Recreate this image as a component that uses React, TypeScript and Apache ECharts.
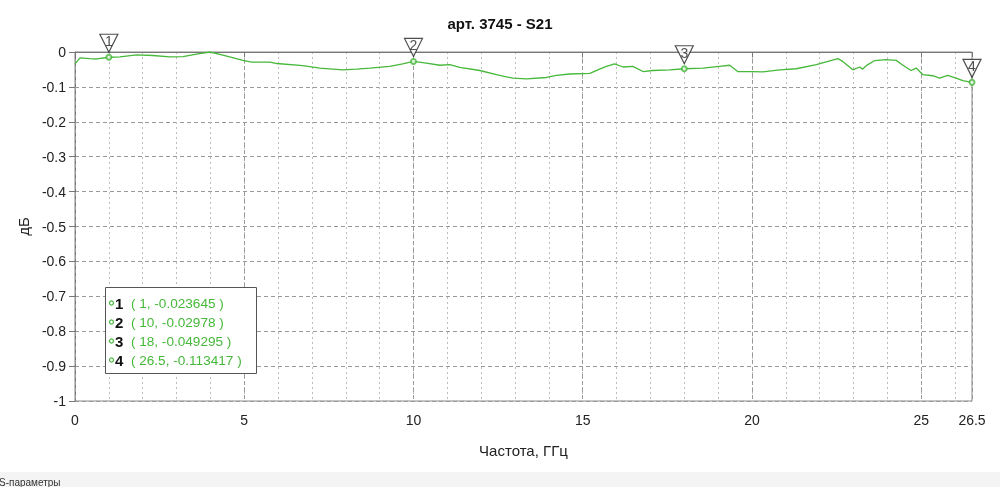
import * as echarts from 'echarts'
import { useEffect, useRef } from 'react'

// S21 trace, frequency in GHz, level in dB
const freq = [
  0, 0.15, 0.44, 0.64, 1, 1.33, 1.82, 2.3, 2.8, 3.19, 3.59, 3.99, 4.37, 4.96, 5.22, 5.76, 5.96, 6.73, 7.23, 7.91,
  8.32, 8.71, 9.3, 9.68, 10, 10.38, 10.78, 11.07, 11.37, 11.96, 12.45, 12.94, 13.34, 13.93, 14.22, 14.61, 15.21,
  15.5, 15.7, 15.94, 16.19, 16.48, 16.78, 17.07, 17.57, 18, 18.55, 19.04, 19.34, 19.58, 19.98, 20.32, 20.82, 21.31,
  21.9, 22.54, 22.68, 22.98, 23.18, 23.27, 23.42, 23.62, 23.97, 24.26, 24.46, 24.7, 24.85, 25.05, 25.34, 25.54,
  25.78, 26.03, 26.23, 26.5,
]
const s21 = [
  -0.034, -0.017, -0.019, -0.02, -0.015, -0.014, -0.008, -0.01, -0.014, -0.013, -0.006, 0, -0.009, -0.024, -0.029,
  -0.029, -0.033, -0.039, -0.046, -0.051, -0.049, -0.046, -0.041, -0.034, -0.027, -0.032, -0.038, -0.036, -0.044,
  -0.053, -0.065, -0.075, -0.077, -0.073, -0.067, -0.063, -0.061, -0.049, -0.041, -0.034, -0.043, -0.041, -0.056,
  -0.053, -0.051, -0.048, -0.046, -0.041, -0.038, -0.056, -0.056, -0.057, -0.051, -0.048, -0.036, -0.019, -0.027,
  -0.051, -0.043, -0.049, -0.036, -0.025, -0.022, -0.024, -0.038, -0.053, -0.046, -0.065, -0.068, -0.075, -0.067,
  -0.075, -0.082, -0.087,
]

// markers
const markerNames = ['1', '2', '3', '4']
const markerFreq = [1, 10, 18, 26.5]
const markerDb = [-0.015, -0.027, -0.048, -0.087]
const markerText = ['( 1, -0.023645 )', '( 10, -0.02978 )', '( 18, -0.049295 )', '( 26.5, -0.113417 )']

const GREEN = '#46b83a'
const FONT = '"Liberation Sans", Arial, sans-serif'

export default function App() {
  const chartRef = useRef<HTMLDivElement>(null)

  useEffect(() => {
    if (!chartRef.current) return
    const chart = echarts.init(chartRef.current, null, { renderer: 'svg' })

    // marker table box
    const legendItems: any[] = [
      {
        type: 'rect',
        z: 100,
        shape: { x: 105.5, y: 287.5, width: 151, height: 86 },
        style: { fill: '#fff', stroke: '#555', lineWidth: 1 },
      },
    ]
    markerNames.forEach((name, i) => {
      const y = 303 + i * 19
      legendItems.push({
        type: 'circle',
        z: 101,
        shape: { cx: 111.5, cy: y, r: 2 },
        style: { fill: '#fff', stroke: GREEN, lineWidth: 1.2 },
      })
      legendItems.push({
        type: 'text',
        z: 101,
        x: 115,
        y,
        style: {
          text: `{n|${name}}{v|  ${markerText[i]}}`,
          verticalAlign: 'middle',
          rich: {
            n: { fontFamily: FONT, fontSize: 15, fontWeight: 'bold', fill: '#111' },
            v: { fontFamily: FONT, fontSize: 13.6, fill: GREEN },
          },
        },
      })
    })

    chart.setOption({
      animation: false,
      textStyle: { fontFamily: FONT },
      title: {
        text: 'арт. 3745 - S21',
        left: 'center',
        top: 11,
        textStyle: { fontSize: 15, fontWeight: 'bold', color: '#111' },
      },
      grid: {
        left: 75,
        right: 28,
        top: 52,
        bottom: 86,
        show: true,
        borderColor: '#888',
        borderWidth: 1,
      },
      xAxis: [
        {
          type: 'value',
          min: 0,
          max: 26.5,
          interval: 5,
          z: 2,
          name: 'Частота, ГГц',
          nameLocation: 'middle',
          nameGap: 42,
          nameTextStyle: { fontSize: 15, color: '#222' },
          axisLine: { lineStyle: { color: '#777' } },
          axisTick: { show: true, length: 5, lineStyle: { color: '#777' } },
          axisLabel: { fontSize: 14, color: '#222', margin: 12 },
          splitLine: { show: true, lineStyle: { color: '#999', type: [4, 3] } },
        },
        {
          type: 'value',
          min: 0,
          max: 26.5,
          interval: 1,
          z: 0,
          position: 'bottom',
          axisLine: { show: false },
          axisTick: { show: false },
          axisLabel: { show: false },
          splitLine: { show: true, lineStyle: { color: '#bdbdbd', type: [2, 3] } },
        },
      ],
      yAxis: {
        type: 'value',
        min: -1,
        max: 0,
        interval: 0.1,
        name: 'дБ',
        nameLocation: 'middle',
        nameGap: 43,
        nameTextStyle: { fontSize: 15, color: '#222' },
        axisLine: { show: true, lineStyle: { color: '#777' } },
        axisTick: { show: true, length: 6, lineStyle: { color: '#777' } },
        axisLabel: { fontSize: 14, color: '#222', margin: 9 },
        splitLine: { show: true, lineStyle: { color: '#999', type: [4, 3] } },
      },
      graphic: [
        ...legendItems,
        {
          type: 'rect',
          shape: { x: 0, y: 472, width: 1000, height: 15 },
          style: { fill: '#f4f4f4' },
        },
        {
          type: 'text',
          x: -1,
          y: 477,
          style: { text: 'S-параметры', fontFamily: FONT, fontSize: 10, fill: '#333' },
        },
      ],
      series: [
        {
          type: 'line',
          xAxisIndex: 0,
          data: freq.map((f, i) => [f, s21[i]]),
          showSymbol: false,
          lineStyle: { color: GREEN, width: 1.3 },
          z: 3,
        },
        {
          type: 'scatter',
          xAxisIndex: 0,
          clip: false,
          data: markerFreq.map((f, i) => [f, markerDb[i]]),
          symbol: 'emptyCircle',
          symbolSize: 5,
          itemStyle: { color: GREEN, borderColor: GREEN, borderWidth: 1.2 },
          z: 4,
        },
        {
          type: 'scatter',
          xAxisIndex: 0,
          clip: false,
          data: markerFreq.map((f, i) => ({ name: markerNames[i], value: [f, markerDb[i]] })),
          symbol: 'path://M0,0 L18,0 L9,18 Z',
          symbolSize: [18, 18],
          symbolOffset: [0, -14],
          itemStyle: { color: '#fff', borderColor: '#222', borderWidth: 1.2 },
          label: {
            show: true,
            position: 'inside',
            offset: [0, -2],
            formatter: '{b}',
            fontSize: 14,
            color: '#222',
          },
          z: 5,
        },
      ],
    })

    return () => {
      chart.dispose()
    }
  }, [])

  return <div ref={chartRef} style={{ position: 'fixed', left: 0, top: 0, width: 1000, height: 487 }} />
}
